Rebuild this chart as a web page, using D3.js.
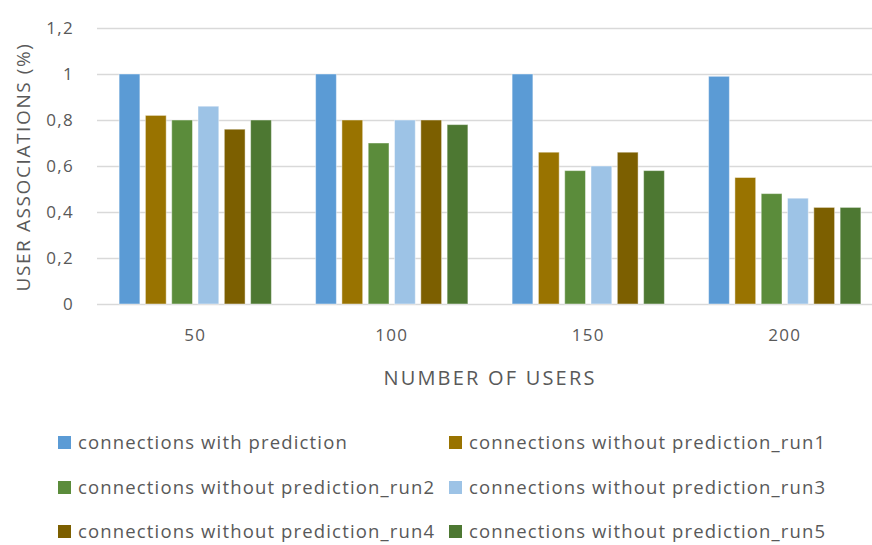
<!DOCTYPE html>
<html>
<head>
<meta charset="utf-8">
<script src="https://cdn.jsdelivr.net/npm/d3@7"></script>
<style>
  html, body { margin: 0; padding: 0; background: #fff; }
  svg { display: block; font-family: "Open Sans", "Noto Sans", sans-serif; }
</style>
</head>
<body>
<svg id="chart" width="872" height="545"></svg>
<script>
// Number of users per group
const categories = ["50", "100", "150", "200"];

// Series names (legend order)
const seriesNames = [
  "connections with prediction",
  "connections without prediction_run1",
  "connections without prediction_run2",
  "connections without prediction_run3",
  "connections without prediction_run4",
  "connections without prediction_run5"
];

// User association ratios per series, one value per category
const withPrediction = [1.00, 1.00, 1.00, 0.99];
const run1 = [0.82, 0.80, 0.66, 0.55];
const run2 = [0.80, 0.70, 0.58, 0.48];
const run3 = [0.86, 0.80, 0.60, 0.46];
const run4 = [0.76, 0.80, 0.66, 0.42];
const run5 = [0.80, 0.78, 0.58, 0.42];

const yTicks = [0, 0.2, 0.4, 0.6, 0.8, 1.0, 1.2];

const seriesValues = [withPrediction, run1, run2, run3, run4, run5];
const colors = ["#5B9BD5", "#997300", "#5B8C3B", "#9DC3E6", "#7C5F00", "#4D7832"];

const svg = d3.select("#chart");
const margin = { left: 97, right: -11, top: 28, bottom: 241 };
const W = 872, H = 545;
const textColor = "#595959";

const x0 = d3.scaleBand()
  .domain(categories)
  .range([margin.left, W - margin.right])
  .paddingInner(0.225)
  .paddingOuter(0.1125);

const x1 = d3.scaleBand()
  .domain(d3.range(seriesNames.length))
  .range([0, x0.bandwidth()])
  .paddingInner(0.21)
  .paddingOuter(0);

const y = d3.scaleLinear().domain([0, 1.2]).range([H - margin.bottom, margin.top]);

// Horizontal gridlines
svg.append("g")
  .selectAll("line")
  .data(yTicks)
  .join("line")
  .attr("x1", margin.left)
  .attr("x2", W)
  .attr("y1", d => Math.round(y(d)) + 0.5)
  .attr("y2", d => Math.round(y(d)) + 0.5)
  .attr("stroke", "#d9d9d9")
  .attr("stroke-width", 1.3);

// Y axis tick labels
const fmt = d => d3.format(".1~f")(d).replace(".", ",");
const yAxis = d3.axisLeft(y).tickValues(yTicks).tickFormat(fmt).tickSize(0).tickPadding(0);
const gy = svg.append("g").attr("transform", `translate(74,0)`).call(yAxis);
gy.select(".domain").remove();
gy.selectAll("text")
  .attr("font-family", "'Open Sans', sans-serif")
  .attr("font-size", 17)
  .attr("letter-spacing", 1.3)
  .attr("fill", textColor);

// X axis category labels
const xAxis = d3.axisBottom(x0).tickSize(0).tickPadding(0);
const gx = svg.append("g").attr("transform", `translate(0,${H - margin.bottom + 25})`).call(xAxis);
gx.select(".domain").remove();
gx.selectAll("text")
  .attr("font-family", "'Open Sans', sans-serif")
  .attr("font-size", 17)
  .attr("letter-spacing", 1.3)
  .attr("fill", textColor);

// Bars
const groups = svg.append("g")
  .selectAll("g")
  .data(categories)
  .join("g")
  .attr("transform", d => `translate(${x0(d)},0)`);

groups.selectAll("rect")
  .data((c, ci) => seriesValues.map((vals, si) => ({ si, v: vals[ci] })))
  .join("rect")
  .attr("x", d => x1(d.si))
  .attr("width", x1.bandwidth())
  .attr("y", d => y(d.v))
  .attr("height", d => y(0) - y(d.v))
  .attr("fill", d => colors[d.si])
  .attr("stroke", "rgba(255,255,255,0.45)")
  .attr("stroke-width", 1);

// Axis titles
svg.append("text")
  .attr("transform", `translate(30,${(y(0) + y(1.2)) / 2 + 1}) rotate(-90)`)
  .attr("text-anchor", "middle")
  .attr("font-size", 19)
  .attr("letter-spacing", 1.6)
  .attr("fill", textColor)
  .text("USER ASSOCIATIONS (%)");

svg.append("text")
  .attr("x", 490)
  .attr("y", 385)
  .attr("text-anchor", "middle")
  .attr("font-size", 20)
  .attr("letter-spacing", 2.2)
  .attr("fill", textColor)
  .text("NUMBER OF USERS");

// Legend: two columns, three rows
const legendCols = [58, 449];
const legendRows = [443, 488, 532];
const legend = svg.append("g")
  .selectAll("g")
  .data(seriesNames)
  .join("g")
  .attr("transform", (d, i) => `translate(${legendCols[i % 2]},${legendRows[Math.floor(i / 2)]})`);

legend.append("rect")
  .attr("x", 0)
  .attr("y", -7)
  .attr("width", 13)
  .attr("height", 13)
  .attr("fill", (d, i) => colors[i]);

legend.append("text")
  .attr("x", 20)
  .attr("y", 0)
  .attr("dy", "0.33em")
  .attr("font-size", 18.5)
  .attr("letter-spacing", 1.15)
  .attr("fill", textColor)
  .text(d => d);
</script>
</body>
</html>
